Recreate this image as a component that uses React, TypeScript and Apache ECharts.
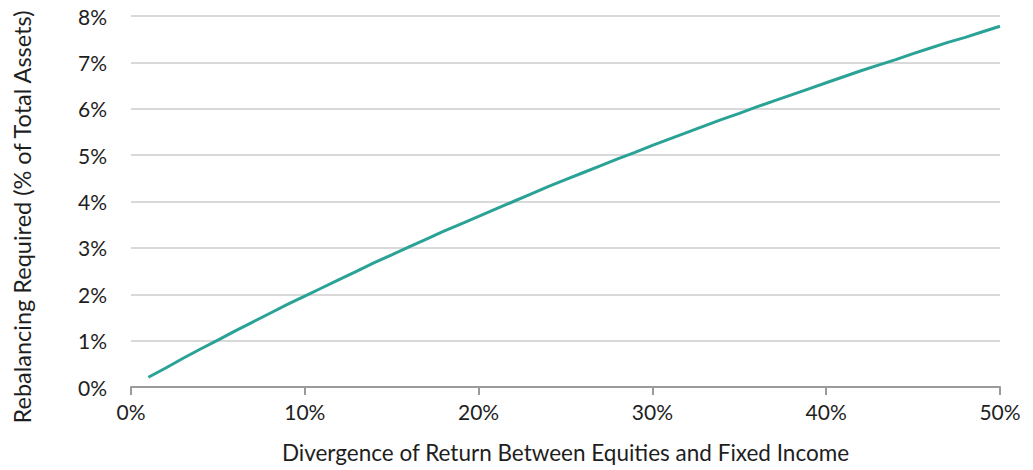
import React, { useEffect, useRef } from "react";
import * as echarts from "echarts";

const divergence: number[] = [
  1, 2, 3, 4, 5, 6, 7, 8, 9, 10, 11, 12, 13, 14, 15, 16, 17, 18, 19, 20, 21, 22, 23, 24, 25,
  26, 27, 28, 29, 30, 31, 32, 33, 34, 35, 36, 37, 38, 39, 40, 41, 42, 43, 44, 45, 46, 47, 48, 49, 50,
];
const rebalancing: number[] = [
  0.21, 0.41, 0.62, 0.82, 1.01, 1.21, 1.4, 1.59, 1.78, 1.96, 2.14, 2.32, 2.5, 2.68, 2.85, 3.02, 3.19,
  3.36, 3.52, 3.68, 3.84, 4.0, 4.16, 4.32, 4.47, 4.62, 4.77, 4.92, 5.06, 5.21, 5.35, 5.49, 5.63, 5.77,
  5.9, 6.04, 6.17, 6.3, 6.43, 6.56, 6.69, 6.82, 6.94, 7.06, 7.19, 7.31, 7.43, 7.54, 7.66, 7.78,
];
const xTitle = "Divergence of Return Between Equities and Fixed Income";
const yTitle = "Rebalancing Required (% of Total Assets)";

const FONT = "Lato";
const TEXT = "#1e1e1e";

export default function App() {
  const ref = useRef<HTMLDivElement>(null);
  useEffect(() => {
    if (!ref.current) return;
    const chart = echarts.init(ref.current, undefined, { renderer: "svg" });
    chart.setOption({
      animation: false,
      backgroundColor: "#ffffff",
      textStyle: { fontFamily: FONT, color: TEXT },
      grid: { left: 131, right: 33, top: 16, bottom: 83, containLabel: false },
      graphic: [
        {
          type: "text",
          x: 22,
          y: 217,
          rotation: Math.PI / 2,
          style: {
            text: yTitle,
            fontFamily: FONT,
            fontSize: 23.5,
            fill: TEXT,
            textAlign: "center",
            textVerticalAlign: "middle",
          },
        },
      ],
      xAxis: {
        type: "value",
        min: 0,
        max: 50,
        interval: 10,
        name: xTitle,
        nameLocation: "middle",
        nameGap: 54,
        nameTextStyle: { fontFamily: FONT, fontSize: 22.5, color: TEXT },
        axisLine: { show: true, lineStyle: { color: "#9a9a9a", width: 2 } },
        axisTick: { show: true, length: 8, lineStyle: { color: "#9a9a9a", width: 2 } },
        axisLabel: { formatter: "{value}%", fontFamily: FONT, fontSize: 21, color: TEXT, margin: 14 },
        splitLine: { show: false },
      },
      yAxis: {
        type: "value",
        min: 0,
        max: 8,
        interval: 1,
        axisLine: { show: false },
        axisTick: { show: false },
        axisLabel: { formatter: "{value}%", fontFamily: FONT, fontSize: 21, color: TEXT, margin: 24 },
        splitLine: { show: true, lineStyle: { color: "#cccccc", width: 1.5 } },
      },
      series: [
        {
          type: "line",
          data: divergence.map((d, i) => [d, rebalancing[i]]),
          showSymbol: false,
          smooth: false,
          lineStyle: { color: "#2aa396", width: 3 },
          itemStyle: { color: "#2aa396" },
        },
      ],
    });
    return () => chart.dispose();
  }, []);
  return (
    <div
      ref={ref}
      style={{ position: "fixed", left: 0, top: 0, width: 1033, height: 470, background: "#fff" }}
    />
  );
}
